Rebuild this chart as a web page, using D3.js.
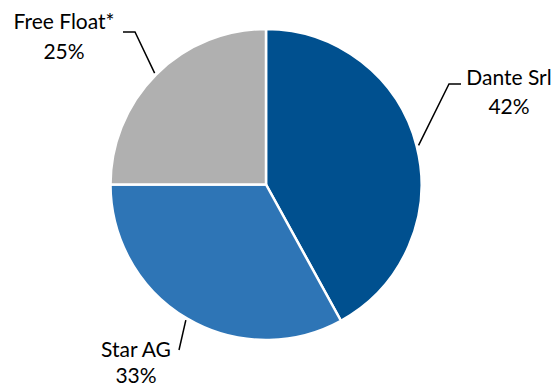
<!DOCTYPE html>
<html>
<head>
<meta charset="utf-8">
<script src="https://cdn.jsdelivr.net/npm/d3@7"></script>
<style>
  body { margin: 0; background: #fff; }
  text { font-family: Lato, "Open Sans", sans-serif; font-size: 21px; fill: #000; }
</style>
</head>
<body>
<div id="chart"></div>
<script>
var names  = ["Dante Srl", "Star AG", "Free Float*"];
var shares = [42, 33, 25];
var colors = ["#00508F", "#2E75B6", "#B0B0B0"];

var width = 557, height = 387;
var cx = 266, cy = 184.5, radius = 155.5;

// label placement (hand placed like the original)
var labelPos = [
  { x: 509, y: 85, dy: 29, line: [[449, 84], [461, 84]] },
  { x: 136, y: 357, dy: 26, line: [[179, 350]] },
  { x: 64,  y: 29, dy: 30, line: [[135, 32], [123, 32]] }
];

var data = names.map(function(n, i) { return { name: n, value: shares[i] }; });

var pie = d3.pie()
  .sort(null)
  .value(function(d) { return d.value; });

var arc = d3.arc().innerRadius(0).outerRadius(radius);

var svg = d3.select("#chart").append("svg")
  .attr("width", width)
  .attr("height", height);

var g = svg.append("g")
  .attr("transform", "translate(" + cx + "," + cy + ")");

var arcs = pie(data);

g.selectAll("path.slice")
  .data(arcs)
  .enter().append("path")
  .attr("class", "slice")
  .attr("d", arc)
  .attr("fill", function(d, i) { return colors[i]; })
  .attr("stroke", "#fff")
  .attr("stroke-width", 2.5)
  .attr("stroke-linejoin", "round");

// leader lines + labels
arcs.forEach(function(d, i) {
  var mid = (d.startAngle + d.endAngle) / 2;
  var r0 = radius + 2;
  var pts = [[cx + r0 * Math.sin(mid), cy - r0 * Math.cos(mid)]].concat(labelPos[i].line);
  svg.append("path")
    .attr("d", d3.line()(pts))
    .attr("fill", "none")
    .attr("stroke", "#000")
    .attr("stroke-width", 1.5);

  var t = svg.append("text")
    .attr("x", labelPos[i].x)
    .attr("y", labelPos[i].y)
    .attr("text-anchor", "middle");
  t.append("tspan").attr("x", labelPos[i].x).text(d.data.name);
  t.append("tspan").attr("x", labelPos[i].x).attr("dy", labelPos[i].dy).text(d.data.value + "%");
});
</script>
</body>
</html>
